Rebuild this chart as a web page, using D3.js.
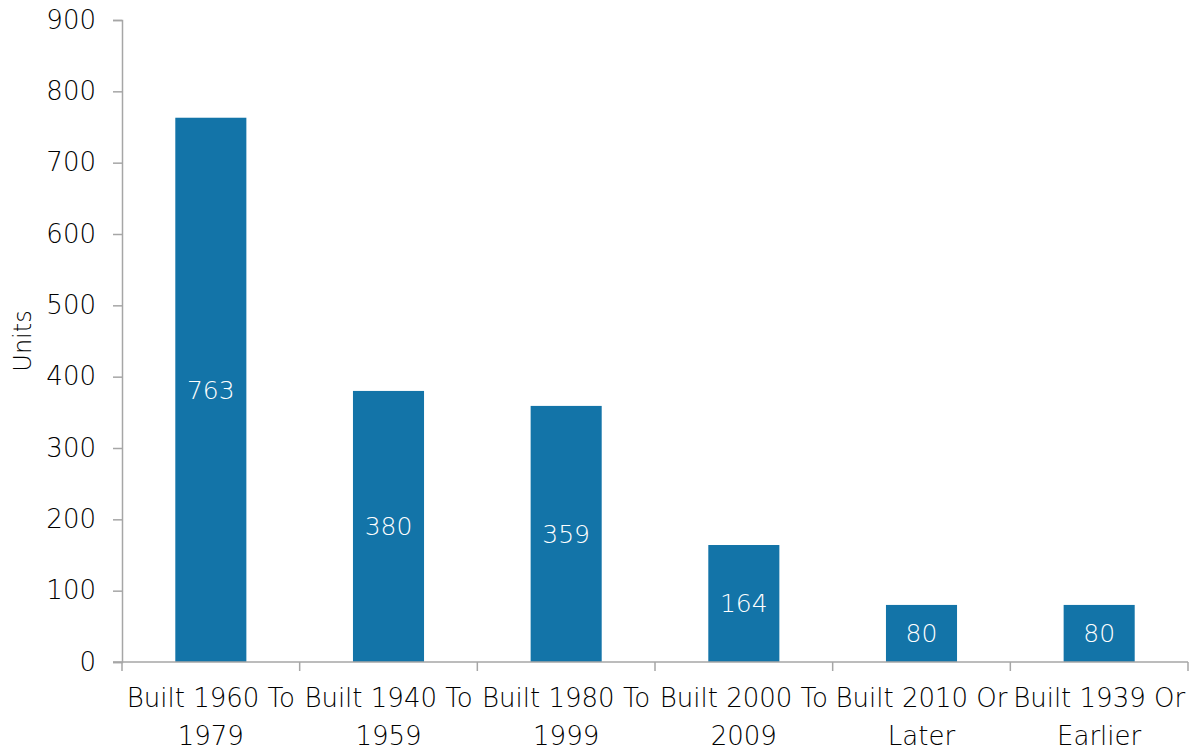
<!DOCTYPE html>
<html>
<head>
<meta charset="utf-8">
<script src="https://cdn.jsdelivr.net/npm/d3@7"></script>
<style>
  body { margin: 0; background: #fff; }
  svg text { font-family: "Century Gothic", "DejaVu Sans", sans-serif; font-weight: 300; }
</style>
</head>
<body>
<svg id="chart"></svg>
<script>
const categories = ["Built 1960 To 1979", "Built 1940 To 1959", "Built 1980 To 1999",
                    "Built 2000 To 2009", "Built 2010 Or Later", "Built 1939 Or Earlier"];
const units = [763, 380, 359, 164, 80, 80];
const yTicks = [0, 100, 200, 300, 400, 500, 600, 700, 800, 900];

const width = 1190, height = 749;
const margin = { top: 20, right: 2, bottom: 87, left: 122 };
const innerW = width - margin.left - margin.right;
const innerH = height - margin.top - margin.bottom;

const svg = d3.select("#chart").attr("width", width).attr("height", height);
const g = svg.append("g").attr("transform", `translate(${margin.left},${margin.top})`);

const x = d3.scaleBand().domain(categories).range([0, innerW]).paddingInner(0).paddingOuter(0);
const y = d3.scaleLinear().domain([0, 900]).range([innerH, 0]);

// y axis
const yAxis = g.append("g")
    .call(d3.axisLeft(y).tickValues(yTicks).tickSize(9).tickPadding(17));
yAxis.select(".domain").attr("stroke", "#a6a6a6").attr("stroke-width", 1.5);
yAxis.selectAll(".tick line").attr("stroke", "#a6a6a6").attr("stroke-width", 1.5);
yAxis.selectAll(".tick text").style("font-size", "26px").attr("fill", "#000");

// bars
const barW = x.bandwidth() * 0.4;
g.selectAll("rect.bar")
    .data(categories)
    .enter().append("rect")
    .attr("class", "bar")
    .attr("x", d => x(d) + (x.bandwidth() - barW) / 2)
    .attr("y", (d, i) => y(units[i]))
    .attr("width", barW)
    .attr("height", (d, i) => innerH - y(units[i]))
    .attr("fill", "#1374a8");

// value labels in the middle of each bar
g.selectAll("text.val")
    .data(categories)
    .enter().append("text")
    .attr("class", "val")
    .attr("x", d => x(d) + x.bandwidth() / 2)
    .attr("y", (d, i) => (y(units[i]) + innerH) / 2)
    .attr("dy", "0.35em")
    .attr("text-anchor", "middle")
    .style("font-size", "25px")
    .attr("fill", "#fff")
    .text((d, i) => units[i]);

// x axis
const xAxis = g.append("g").attr("transform", `translate(0,${innerH})`);
xAxis.append("line")
    .attr("x1", -9).attr("x2", innerW)
    .attr("stroke", "#a6a6a6").attr("stroke-width", 1.5);
xAxis.selectAll("line.tick")
    .data(d3.range(categories.length + 1))
    .enter().append("line")
    .attr("class", "tick")
    .attr("x1", i => i * x.step()).attr("x2", i => i * x.step())
    .attr("y1", 0).attr("y2", 9)
    .attr("stroke", "#a6a6a6").attr("stroke-width", 1.5);

const lbl = xAxis.selectAll("text.cat")
    .data(categories)
    .enter().append("text")
    .attr("class", "cat")
    .attr("text-anchor", "middle")
    .style("font-size", "26px")
    .attr("fill", "#000");
lbl.selectAll("tspan")
    .data(d => {
        const w = d.split(" ");
        return [w.slice(0, 3).join(" "), w.slice(3).join(" ")].map(t => ({ t, c: d }));
    })
    .enter().append("tspan")
    .attr("x", d => x(d.c) + x.bandwidth() / 2)
    .attr("y", (d, i) => 45 + i * 38)
    .text(d => d.t);

// y axis title
svg.append("text")
    .attr("transform", `translate(31,${margin.top + innerH / 2}) rotate(-90)`)
    .attr("text-anchor", "middle")
    .style("font-size", "24px")
    .attr("fill", "#000")
    .text("Units");
</script>
</body>
</html>
